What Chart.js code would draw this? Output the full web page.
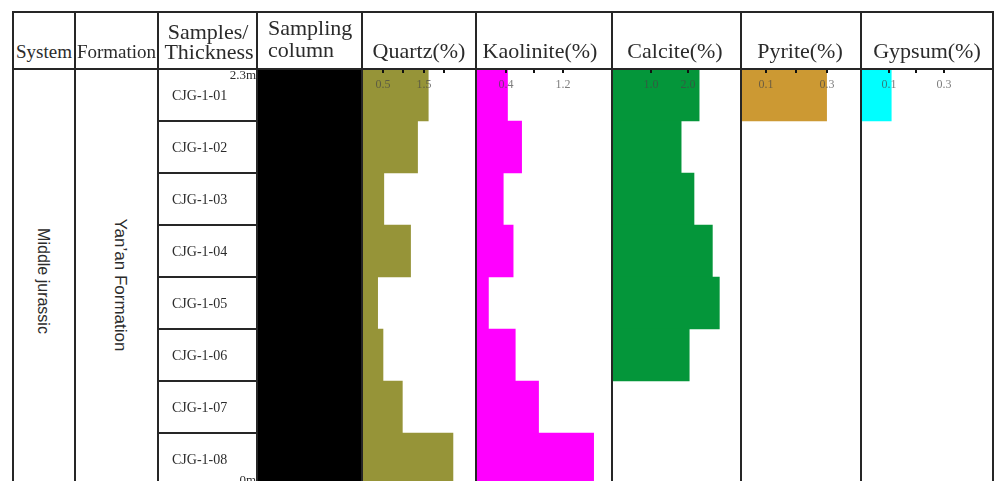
<!DOCTYPE html>
<html>
<head>
<meta charset="utf-8">
<script src="https://cdn.jsdelivr.net/npm/chart.js@4.4.0/dist/chart.umd.min.js"></script>
<style>
    html, body { margin: 0; padding: 0; background: #fff; }
    body { width: 995px; height: 481px; overflow: hidden; position: relative; }
    .t { position: absolute; white-space: nowrap; line-height: 1; color: #2b2b2b; font-family: "Liberation Serif", serif; }
    .ln { position: absolute; background: #262626; }
    canvas { position: absolute; }
</style>
</head>
<body>
<div id="fig"></div>
<script>
// samples (top to bottom)
var samples = ['CJG-1-01', 'CJG-1-02', 'CJG-1-03', 'CJG-1-04', 'CJG-1-05', 'CJG-1-06', 'CJG-1-07', 'CJG-1-08'];

// mineral contents (%)
var quartz = [1.61, 1.35, 0.53, 1.18, 0.38, 0.51, 0.98, 2.21];
var kaolinite = [0.42, 0.62, 0.36, 0.50, 0.15, 0.53, 0.86, 1.64];
var calcite = [2.31, 1.82, 2.17, 2.67, 2.86, 2.04, null, null];
var pyrite = [0.30, null, null, null, null, null, null, null];
var gypsum = [0.11, null, null, null, null, null, null, null];

// tick values and tick labels of each column
var quartzTicks = [0.5, 1.0, 1.5, 2.0];
var quartzTickLabels = ['0.5', '', '1.5', ''];
var kaoliniteTicks = [0.4, 0.8, 1.2];
var kaoliniteTickLabels = ['0.4', '', '1.2'];
var calciteTicks = [1.0, 2.0];
var calciteTickLabels = ['1.0', '2.0'];
var pyriteTicks = [0.1, 0.2, 0.3];
var pyriteTickLabels = ['0.1', '', '0.3'];
var gypsumTicks = [0.1, 0.2, 0.3];
var gypsumTickLabels = ['0.1', '', '0.3'];

var fig = document.getElementById('fig');
var TOP = 69, ROW = 52;

function txt(str, x, base, size, align, family) {
    var el = document.createElement('span');
    el.className = 't';
    el.textContent = str;
    el.style.fontSize = size + 'px';
    if (family) el.style.fontFamily = family;
    el.style.left = x + 'px';
    el.style.top = (base - 0.84 * size) + 'px';
    if (align == 'center') el.style.transform = 'translateX(-50%)';
    if (align == 'right') el.style.transform = 'translateX(-100%)';
    fig.appendChild(el);
    return el;
}

function vtxt(str, cx, cy, size) {
    var el = document.createElement('span');
    el.className = 't';
    el.textContent = str;
    el.style.fontSize = size + 'px';
    el.style.fontFamily = '"Liberation Sans", Arial, sans-serif';
    el.style.left = cx + 'px';
    el.style.top = cy + 'px';
    el.style.transform = 'translate(-50%, -50%) rotate(90deg)';
    fig.appendChild(el);
}

function line(x, y, w, h) {
    var el = document.createElement('div');
    el.className = 'ln';
    el.style.left = x + 'px';
    el.style.top = y + 'px';
    el.style.width = w + 'px';
    el.style.height = h + 'px';
    fig.appendChild(el);
}

// draws the small ticks under the header line and their labels
var tickMarks = {
    id: 'tickMarks',
    afterDatasetsDraw: function (chart, args, opts) {
        var ctx = chart.ctx;
        var sx = chart.scales.x;
        var top = chart.chartArea.top;
        ctx.save();
        opts.ticks.forEach(function (v, i) {
            var px = Math.round(sx.getPixelForValue(v));
            ctx.fillStyle = '#111';
            ctx.fillRect(px - 1, top, 2, 4);
            if (opts.labels[i]) {
                ctx.fillStyle = 'rgba(70,70,70,0.7)';
                ctx.font = '12px "Liberation Serif"';
                ctx.textAlign = 'center';
                ctx.textBaseline = 'alphabetic';
                ctx.fillText(opts.labels[i], px, top + 19);
            }
        });
        ctx.restore();
    }
};

function column(left, right, values, color, min, max, ticks, labels) {
    var cv = document.createElement('canvas');
    cv.width = right - left;
    cv.height = ROW * samples.length;
    cv.style.left = left + 'px';
    cv.style.top = TOP + 'px';
    fig.appendChild(cv);

    new Chart(cv, {
        type: 'bar',
        data: {
            labels: samples,
            datasets: [{
                data: values,
                backgroundColor: color,
                borderWidth: 0,
                base: min,
                barPercentage: 1,
                categoryPercentage: 1
            }]
        },
        options: {
            indexAxis: 'y',
            responsive: false,
            animation: false,
            layout: { padding: 0 },
            plugins: {
                legend: { display: false },
                tooltip: { enabled: false },
                tickMarks: { ticks: ticks, labels: labels }
            },
            scales: {
                x: { type: 'linear', display: false, min: min, max: max },
                y: { display: false }
            }
        },
        plugins: [tickMarks]
    });
}

// sampling column
var blk = document.createElement('div');
blk.style.cssText = 'position:absolute;left:257px;top:69px;width:105px;height:420px;background:#000;';
fig.appendChild(blk);

column(362, 476, quartz, '#969438', 0, 2.77, quartzTicks, quartzTickLabels);
column(476, 612, kaolinite, '#ff00ff', -0.026, 1.90, kaoliniteTicks, kaoliniteTickLabels);
column(612, 741, calcite, '#04963a', -0.063, 3.45, calciteTicks, calciteTickLabels);
column(741, 861, pyrite, '#cc9933', 0.0175, 0.4135, pyriteTicks, pyriteTickLabels);
column(861, 993, gypsum, '#00ffff', 0, 0.48, gypsumTicks, gypsumTickLabels);

// table frame
line(13, 11, 981, 2);
line(13, 68, 981, 2);
[13, 75, 158, 257, 362, 476, 612, 741, 861, 993].forEach(function (x) {
    line(x - 1, 11, 2, 480);
});
for (var k = 1; k < samples.length; k++) {
    line(158, TOP + ROW * k - 1, 99, 2);
}

// header
txt('System', 44, 58, 19, 'center');
txt('Formation', 116.5, 58, 19, 'center');
txt('Samples/', 208, 39, 22, 'center');
txt('Thickness', 209, 59, 22, 'center');
txt('Sampling', 268, 35, 22);
txt('column', 268, 57, 22);
txt('Quartz(%)', 419, 58, 22, 'center');
txt('Kaolinite(%)', 540, 58, 22, 'center');
txt('Calcite(%)', 675, 58, 22, 'center');
txt('Pyrite(%)', 800, 58, 22, 'center');
txt('Gypsum(%)', 927, 58, 22, 'center');

// body text
vtxt('Middle jurassic', 43, 281, 16);
vtxt('Yan\u2019an Formation', 120, 285, 17);
txt('2.3m', 256, 79, 13, 'right');
txt('0m', 256, 484, 13, 'right');
samples.forEach(function (s, i) {
    txt(s, 172, TOP + ROW * i + ROW / 2 + 6, 14);
});
</script>
</body>
</html>
